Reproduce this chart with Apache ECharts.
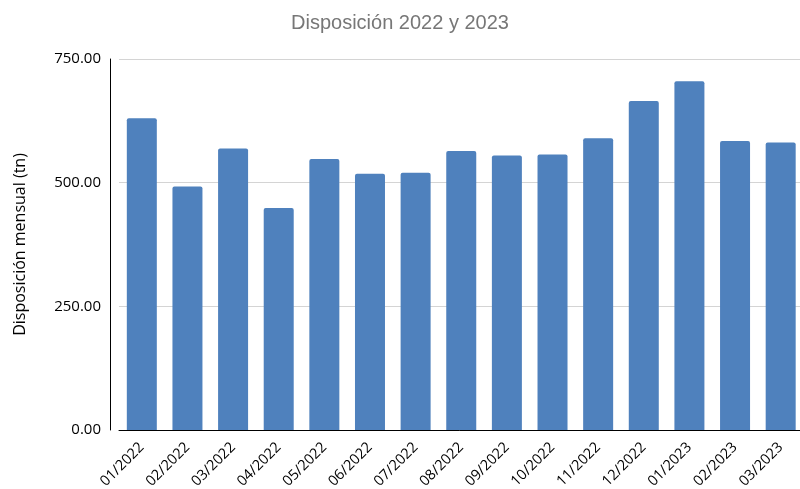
<!DOCTYPE html>
<html>
<head>
<meta charset="utf-8">
<script src="https://cdn.jsdelivr.net/npm/echarts@6/dist/echarts.min.js"></script>
<style>
  html, body { margin: 0; padding: 0; background: #fff; }
  #chart { width: 800px; height: 489px; }
</style>
</head>
<body>
<div id="chart"></div>
<script>
// Monthly disposal, tonnes
const months = ['01/2022', '02/2022', '03/2022', '04/2022', '05/2022', '06/2022', '07/2022',
  '08/2022', '09/2022', '10/2022', '11/2022', '12/2022', '01/2023', '02/2023', '03/2023'];
const disposal = [630, 492, 569, 449, 548, 518, 520, 564, 555, 557, 590, 665, 705, 584, 581];
const yTicks = [0, 250, 500, 750];

const chart = echarts.init(document.getElementById('chart'));
chart.setOption({
  animation: false,
  title: {
    text: 'Disposición 2022 y 2023',
    left: 'center',
    top: 8,
    textStyle: { fontFamily: 'Liberation Sans', fontSize: 20, fontWeight: 'normal', color: '#777777' }
  },
  grid: { left: 119, right: -3.5, top: 59, bottom: 59, containLabel: false, outerBoundsMode: 'none' },
  xAxis: {
    type: 'category',
    data: months,
    axisLine: { lineStyle: { color: '#000', width: 1 } },
    axisTick: { show: false },
    axisLabel: { rotate: 45, interval: 0, margin: 15, fontFamily: 'Open Sans', fontSize: 14.5, color: '#000' }
  },
  yAxis: {
    type: 'value',
    min: yTicks[0],
    max: yTicks[yTicks.length - 1],
    interval: yTicks[1] - yTicks[0],
    offset: 9,
    name: 'Disposición mensual (tn)',
    nameLocation: 'middle',
    nameGap: 82,
    nameTextStyle: { fontFamily: 'Open Sans', fontSize: 16, color: '#000' },
    axisLine: { show: true, lineStyle: { color: '#000', width: 1 } },
    axisTick: { show: false },
    axisLabel: { margin: 9, fontFamily: 'Open Sans', fontSize: 15, color: '#000',
      formatter: v => v.toFixed(2) },
    splitLine: { lineStyle: { color: '#d4d4d4', width: 1 } }
  },
  series: [{
    type: 'bar',
    data: disposal,
    barWidth: 30,
    itemStyle: { color: '#4f81bd', borderRadius: [2, 2, 0, 0] }
  }]
});
</script>
</body>
</html>
